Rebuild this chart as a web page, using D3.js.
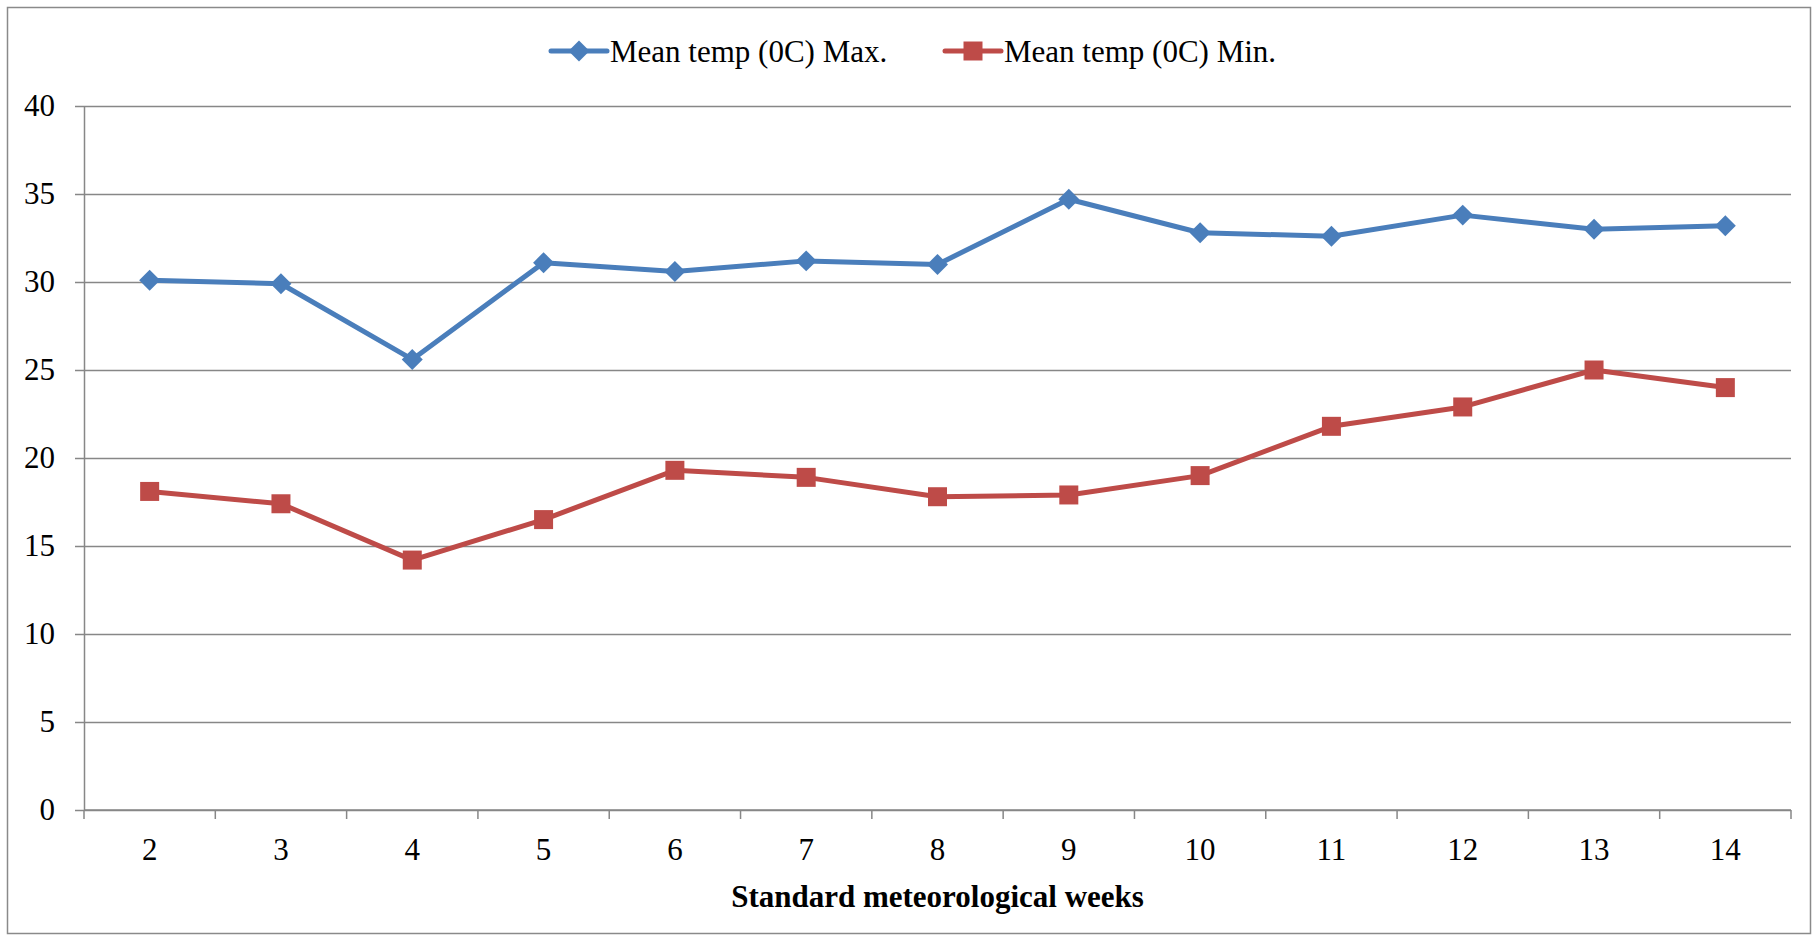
<!DOCTYPE html>
<html>
<head>
<meta charset="utf-8">
<script src="https://cdn.jsdelivr.net/npm/d3@7"></script>
<style>
  html, body { margin: 0; padding: 0; background: #fff; }
  svg { display: block; }
  text { font-family: "Liberation Serif", "Times New Roman", serif; fill: #000; }
</style>
</head>
<body>
<svg id="chart" width="1817" height="940"></svg>
<script>
// Standard meteorological weeks and weekly mean temperatures (°C)
const weeks = [2, 3, 4, 5, 6, 7, 8, 9, 10, 11, 12, 13, 14];
const tempMax = [30.1, 29.9, 25.6, 31.1, 30.6, 31.2, 31.0, 34.7, 32.8, 32.6, 33.8, 33.0, 33.2];
const tempMin = [18.1, 17.4, 14.2, 16.5, 19.3, 18.9, 17.8, 17.9, 19.0, 21.8, 22.9, 25.0, 24.0];
const yTicks = [0, 5, 10, 15, 20, 25, 30, 35, 40];
const seriesNames = ["Mean temp (0C) Max.", "Mean temp (0C) Min."];
const xTitle = "Standard meteorological weeks";

const plot = { left: 84, right: 1791, top: 106, bottom: 810 };
const gridColor = "#878787";
const blue = "#4A7EBB", red = "#BE4B48";
const fontSize = 31;
const serif = '"Liberation Serif", "Times New Roman", serif';

const svg = d3.select("#chart");

// outer chart frame
svg.append("rect")
  .attr("x", 7.5).attr("y", 7.5)
  .attr("width", 1803).attr("height", 926)
  .attr("fill", "#fff").attr("stroke", "#8a8a8a").attr("stroke-width", 1.5);

const x = d3.scaleBand().domain(weeks).range([plot.left, plot.right]);
const y = d3.scaleLinear().domain([0, 40]).range([plot.bottom, plot.top]);
const cx = d => x(d) + x.bandwidth() / 2;

// horizontal gridlines with outward ticks and labels
const yAxis = d3.axisLeft(y).tickValues(yTicks)
  .tickSize(-(plot.right - plot.left)).tickPadding(20).tickSizeOuter(0);
const gy = svg.append("g").attr("transform", `translate(${plot.left},0)`).call(yAxis);
gy.attr("font-family", null);
gy.select(".domain").attr("stroke", gridColor).attr("stroke-width", 1.5);
gy.selectAll(".tick line").attr("stroke", gridColor).attr("stroke-width", 1.5)
  .attr("x1", -9);
gy.selectAll(".tick text")
  .attr("x", -29)
  .style("font-family", serif)
  .style("font-size", fontSize + "px").attr("fill", "#000");

// category axis with ticks at band boundaries
const gx = svg.append("g").attr("transform", `translate(0,${plot.bottom})`)
  .call(d3.axisBottom(x).tickSize(0).tickPadding(28));
gx.attr("font-family", null);
gx.select(".domain").remove();
gx.selectAll(".tick text")
  .style("font-family", serif)
  .style("font-size", fontSize + "px").attr("fill", "#000");
const bounds = weeks.map(w => x(w)).concat([x(weeks[weeks.length - 1]) + x.bandwidth()]);
gx.selectAll("line.band-tick").data(bounds).enter().append("line")
  .attr("class", "band-tick")
  .attr("x1", d => d).attr("x2", d => d)
  .attr("y1", 0).attr("y2", 9)
  .attr("stroke", gridColor).attr("stroke-width", 1.5);
gx.append("line")
  .attr("x1", plot.left).attr("x2", plot.right).attr("y1", 0).attr("y2", 0)
  .attr("stroke", gridColor).attr("stroke-width", 1.5);

// axis title
svg.append("text")
  .attr("x", (plot.left + plot.right) / 2).attr("y", 907)
  .attr("text-anchor", "middle")
  .style("font-size", fontSize + "px").style("font-weight", "bold")
  .text(xTitle);

const line = d3.line().x((d, i) => cx(weeks[i])).y(d => y(d));

function drawSeries(values, color, symbolType, size) {
  svg.append("path").datum(values)
    .attr("d", line).attr("fill", "none")
    .attr("stroke", color).attr("stroke-width", 5)
    .attr("stroke-linejoin", "round");
  svg.append("g").selectAll("path").data(values).enter().append("path")
    .attr("d", d3.symbol().type(symbolType).size(size))
    .attr("transform", (d, i) => `translate(${cx(weeks[i])},${y(d)})`)
    .attr("fill", color);
}

// diamond marker: rotated square
const diamond = {
  draw(ctx, size) {
    const r = Math.sqrt(size / 2);
    ctx.moveTo(0, -r); ctx.lineTo(r, 0); ctx.lineTo(0, r); ctx.lineTo(-r, 0); ctx.closePath();
  }
};

drawSeries(tempMax, blue, diamond, 220);
drawSeries(tempMin, red, d3.symbolSquare, 361);

// legend
const legendItems = [
  { name: seriesNames[0], color: blue, sym: diamond, size: 220, x0: 551 },
  { name: seriesNames[1], color: red, sym: d3.symbolSquare, size: 361, x0: 945 }
];
const ly = 51;
legendItems.forEach(it => {
  const g = svg.append("g");
  g.append("line")
    .attr("x1", it.x0).attr("x2", it.x0 + 56).attr("y1", ly).attr("y2", ly)
    .attr("stroke", it.color).attr("stroke-width", 5).attr("stroke-linecap", "round");
  g.append("path")
    .attr("d", d3.symbol().type(it.sym).size(it.size))
    .attr("transform", `translate(${it.x0 + 28},${ly})`)
    .attr("fill", it.color);
  g.append("text")
    .attr("x", it.x0 + 59).attr("y", ly + 11)
    .style("font-size", fontSize + "px")
    .text(it.name);
});
</script>
</body>
</html>
